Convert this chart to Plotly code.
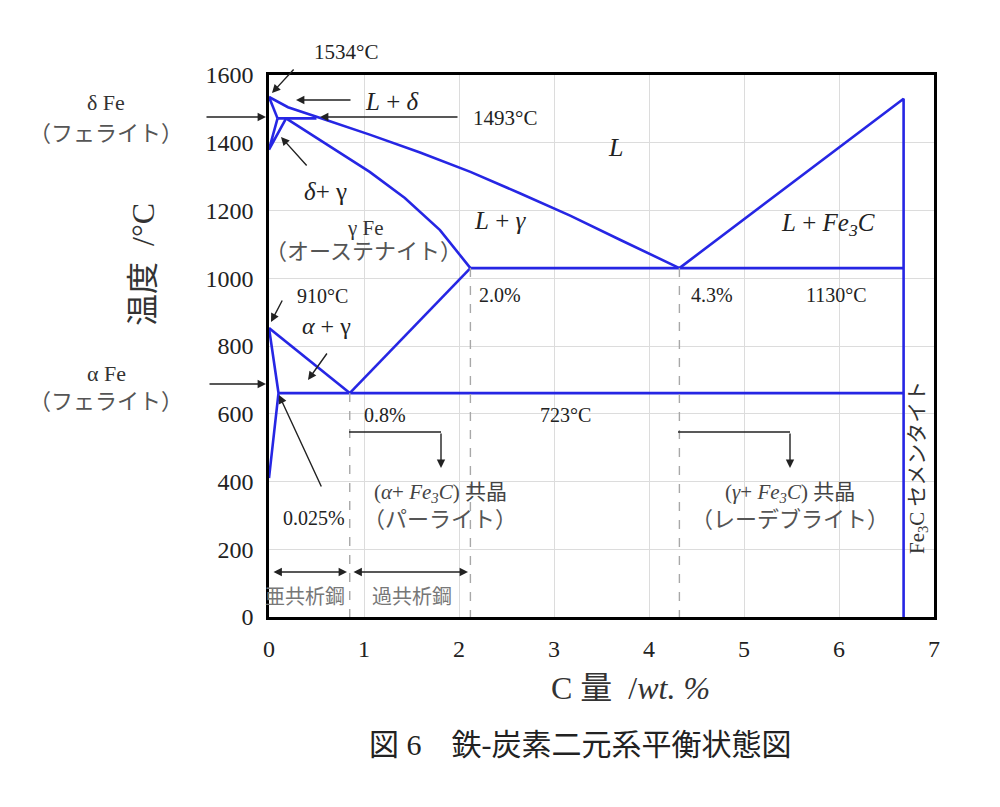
import plotly.graph_objects as go

# ---------------- data (C wt.% , temperature °C as drawn) ----------------
x_ticks = [0, 1, 2, 3, 4, 5, 6, 7]
y_ticks = [0, 200, 400, 600, 800, 1000, 1200, 1400, 1600]

liquidus_x = [0.0, 0.2, 0.54, 1.06, 1.59, 2.12, 2.64, 3.17, 3.70, 4.32]
liquidus_y = [1535, 1505, 1473, 1424, 1371, 1314, 1251, 1185, 1113, 1030]

delta_solidus_x = [0.0, 0.09]
delta_solidus_y = [1535, 1472]

peritectic_x = [0.09, 0.5]
peritectic_y = [1472, 1472]

delta_gamma_x = [0.09, 0.0, 0.18]
delta_gamma_y = [1472, 1380, 1472]

gamma_solidus_x = [0.18, 0.64, 1.06, 1.43, 1.80, 2.12]
gamma_solidus_y = [1472, 1390, 1314, 1237, 1142, 1030]

eutectic_x = [2.12, 6.68]
eutectic_y = [1030, 1030]

cementite_liq_x = [4.32, 6.68, 6.68]
cementite_liq_y = [1030, 1530, 0]

acm_x = [2.12, 0.85]
acm_y = [1030, 661]

a3_x = [0.0, 0.43, 0.85]
a3_y = [853, 757, 661]

alpha_x = [0.0, 0.1, 0.0]
alpha_y = [853, 661, 410]

eutectoid_x = [0.1, 6.68]
eutectoid_y = [661, 661]

dashed_x = [0.85, 2.12, 4.32]
dashed_top = [661, 1030, 1030]

# ---------------- figure ----------------
BLUE = "rgb(38,38,228)"
FONT = "Liberation Serif, Noto Sans CJK JP"
# plot area in page pixels (page has 8px body margin)
L, T, PW, PH = 269, 75, 665, 542
OFF = 8
FW, FH = 1000 - OFF, 807 - OFF


def P(px, py):
    return ((px - L) / PW, (T + PH - py) / PH)


fig = go.Figure()

curves = [(liquidus_x, liquidus_y), (delta_solidus_x, delta_solidus_y),
          (peritectic_x, peritectic_y), (delta_gamma_x, delta_gamma_y),
          (gamma_solidus_x, gamma_solidus_y), (eutectic_x, eutectic_y),
          (cementite_liq_x, cementite_liq_y), (acm_x, acm_y),
          (a3_x, a3_y), (alpha_x, alpha_y), (eutectoid_x, eutectoid_y)]
for xs, ys in curves:
    fig.add_trace(go.Scatter(x=xs, y=ys, mode="lines",
                             line=dict(color=BLUE, width=2.6),
                             hoverinfo="skip", showlegend=False, cliponaxis=False))

for dx, dt in zip(dashed_x, dashed_top):
    fig.add_trace(go.Scatter(x=[dx, dx], y=[dt, 0], mode="lines",
                             line=dict(color="#a8a8a8", width=1.4, dash="dash"),
                             hoverinfo="skip", showlegend=False))

ann = []


def text(px, py, s, size=21, color="#222", angle=0):
    x, y = P(px, py)
    ann.append(dict(x=x, y=y, xref="paper", yref="paper", text=s, showarrow=False,
                    font=dict(family=FONT, size=size, color=color),
                    xanchor="center", yanchor="middle", textangle=angle))


def arrow(tx, ty, hx, hy, side="end"):
    x, y = P(hx, hy)
    ann.append(dict(x=x, y=y, ax=tx - hx, ay=ty - hy, xref="paper", yref="paper",
                    axref="pixel", ayref="pixel",
                    text="", showarrow=True, arrowhead=2, arrowsize=1.2,
                    arrowwidth=1.4, arrowcolor="#222", arrowside=side,
                    startarrowhead=2, startarrowsize=1.2, standoff=0, startstandoff=0))


# top-left annotations
text(346, 52, "1534°C", 21)
arrow(295, 68, 272, 93)
text(106, 103, "δ Fe", 22, "#333")
text(106, 133, "（フェライト）", 22, "#555")
arrow(205, 117, 266, 117)
text(392, 101, "<i>L</i> + <i>δ</i>", 25)
arrow(352, 100, 296, 100)
text(505, 118, "1493°C", 21)
arrow(459, 117, 320, 117)
text(325, 191, "<i>δ</i>+ γ", 25)
arrow(308, 167, 281, 137)

text(615, 148, "<i>L</i>", 26)
text(365, 228, "γ Fe", 21, "#333")
text(363, 251, "（オーステナイト）", 22, "#555")
text(500, 220, "<i>L</i> + <i>γ</i>", 25)
text(828, 224, "<i>L</i> + <i>Fe<sub>3</sub>C</i>", 25)

text(500, 295, "2.0%", 20)
text(712, 295, "4.3%", 20)
text(836, 295, "1130°C", 20)

text(322, 296, "910°C", 20)
arrow(283, 299, 271, 322)
text(326, 326, "<i>α</i> + γ", 24)
arrow(328, 352, 308, 380)

text(106, 373, "α Fe", 22, "#333")
text(106, 402, "（フェライト）", 22, "#555")
arrow(208, 384, 266, 384)

arrow(322, 488, 279, 395)
text(314, 518, "0.025%", 20)
text(385, 415, "0.8%", 20)
text(565, 415, "723°C", 20)

# bent arrows to eutectoid/eutectic labels
arrow(441, 432, 441, 468)
arrow(790, 432, 790, 468)
text(440, 493, "(<i>α</i>+ <i>Fe<sub>3</sub>C</i>) 共晶", 21, "#444")
text(440, 519, "（パーライト）", 22, "#555")
text(790, 493, "(<i>γ</i>+ <i>Fe<sub>3</sub>C</i>) 共晶", 21, "#444")
text(790, 519, "（レーデブライト）", 22, "#555")

text(918, 468, "Fe<sub>3</sub>C セメンタイト", 21, "#333", angle=-90)

# steel classes
arrow(272, 572, 347, 572, side="end+start")
arrow(352, 572, 468, 572, side="end+start")
text(305, 597, "亜共析鋼", 20, "#777")
text(412, 597, "過共析鋼", 20, "#777")

# axis titles and caption
text(143, 265, "温度  /°C", 32, "#333", angle=-90)
text(630, 688, "C 量  /<i>wt. %</i>", 32, "#333")
text(580, 744, "図 6　鉄-炭素二元系平衡状態図", 30, "#222")

shapes = []
for (x0p, x1p) in [(349, 441), (678, 790)]:
    a0 = P(x0p, 432)
    a1 = P(x1p, 432)
    shapes.append(dict(type="line", xref="paper", yref="paper", x0=a0[0], y0=a0[1],
                       x1=a1[0], y1=a1[1], line=dict(color="#222", width=1.4)))

axis_common = dict(showgrid=True, gridcolor="#dcdcdc", gridwidth=1, zeroline=False,
                   showline=True, mirror=True, linecolor="black", linewidth=2.5,
                   ticks="", tickfont=dict(family=FONT, size=24, color="#222"),
                   ticklabelstandoff=8)

fig.update_layout(
    width=FW, height=FH,
    margin=dict(l=L - OFF, r=FW - (L - OFF) - PW, t=T - OFF, b=FH - (T - OFF) - PH),
    paper_bgcolor="white", plot_bgcolor="white",
    xaxis=dict(range=[0, 7], tickvals=x_ticks, **axis_common),
    yaxis=dict(range=[0, 1600], tickvals=y_ticks, **axis_common),
    annotations=ann, shapes=shapes, showlegend=False,
)

fig.write_html("out.html")
